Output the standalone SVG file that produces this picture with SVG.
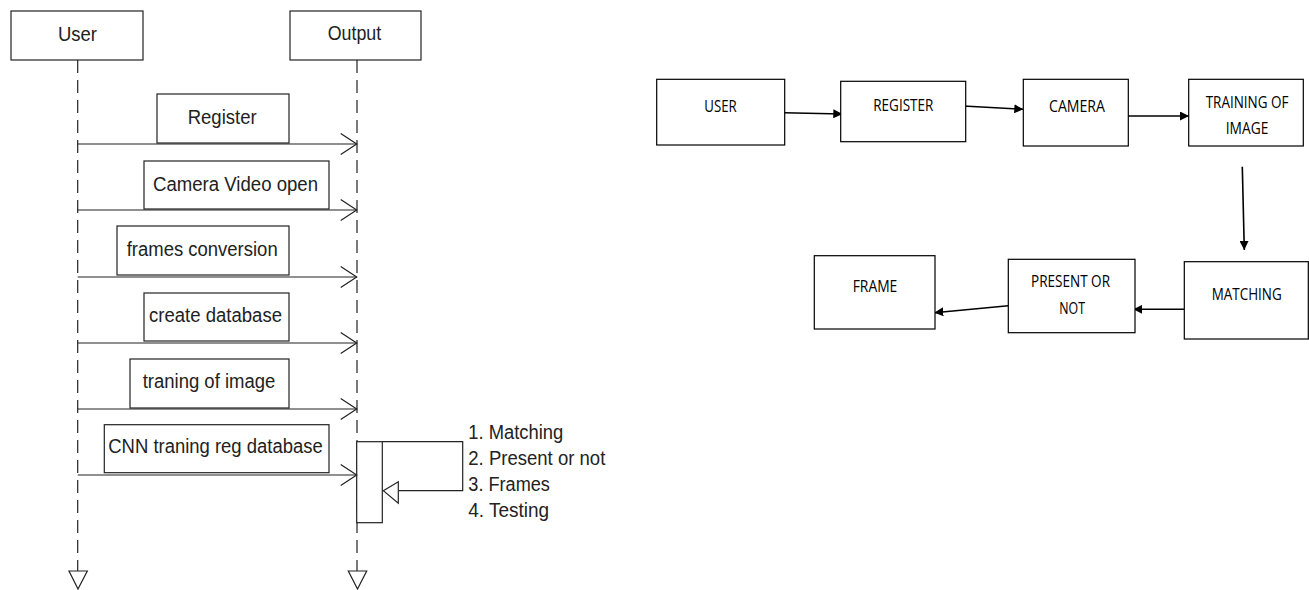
<svg xmlns="http://www.w3.org/2000/svg" width="1309" height="590" viewBox="0 0 1309 590">
<defs>
<style>
.box{fill:#fff;stroke:#222;stroke-width:1.2}
.lbl{fill:#fff;stroke:#222;stroke-width:1.2}
.t{font-family:"Liberation Sans",Arial,sans-serif;font-size:20px;fill:#222}
.life{stroke:#222;stroke-width:1.2;stroke-dasharray:13 7;fill:none}
.msg{stroke:#222;stroke-width:1.2;fill:none;marker-end:url(#open)}
.rb{fill:#fff;stroke:#000;stroke-width:1.2}
.rt{font-family:"Open Sans","Noto Sans",sans-serif;font-size:17px;fill:#000;text-anchor:start}
.ra{stroke:#000;stroke-width:1.6;fill:none;marker-end:url(#fill)}
</style>
<marker id="open" viewBox="0 0 18 24" refX="17" refY="12" markerWidth="18" markerHeight="24" markerUnits="userSpaceOnUse" orient="auto" overflow="visible">
<path d="M1,1.5 L17,12 L1,22.5" fill="none" stroke="#222" stroke-width="1.2"/>
</marker>
<marker id="fill" viewBox="0 0 10 10" refX="10" refY="5" markerWidth="9" markerHeight="9" markerUnits="userSpaceOnUse" orient="auto">
<path d="M0,0 L10,5 L0,10 z" fill="#000"/>
</marker>
</defs>
<rect width="1309" height="590" fill="#fff"/>

<!-- Sequence diagram -->
<g id="lifelines">
<line class="life" x1="77.7" y1="60" x2="77.7" y2="571"/>
<line class="life" x1="357" y1="60" x2="357" y2="571"/>
<polygon points="69,571 87.3,571 78,589" fill="#fff" stroke="#222" stroke-width="1.2"/>
<polygon points="348.3,571 366.7,571 357.5,589" fill="#fff" stroke="#222" stroke-width="1.2"/>
</g>
<g id="seq-user">
<rect class="box" x="11" y="11" width="132" height="49"/>
<text class="t" x="58" y="41" textLength="39" lengthAdjust="spacingAndGlyphs">User</text>
</g>
<g id="seq-output">
<rect class="box" x="290" y="11" width="131" height="49"/>
<text class="t" x="327.7" y="40" textLength="53.5" lengthAdjust="spacingAndGlyphs">Output</text>
</g>
<g id="seq-activation">
<rect class="box" x="356.7" y="441.7" width="25.6" height="81"/>
</g>
<g id="seq-messages">
<path class="msg" d="M77.7,144 H356.7"/>
<path class="msg" d="M77.7,210 H356.7"/>
<path class="msg" d="M77.7,277 H356.7"/>
<path class="msg" d="M77.7,343 H356.7"/>
<path class="msg" d="M77.7,409 H356.7"/>
<path class="msg" d="M77.7,475 H356.7"/>
<path d="M382.3,441.7 H462.7 V490.7 H398.3" fill="none" stroke="#222" stroke-width="1.2"/>
<polygon points="383.3,490.7 398.3,481.7 398.3,503.3" fill="#fff" stroke="#222" stroke-width="1.2"/>
</g>
<g id="msg-register">
<rect class="lbl" x="157" y="94" width="132" height="49"/>
<text class="t" x="187.7" y="124" textLength="69" lengthAdjust="spacingAndGlyphs">Register</text>
</g>
<g id="msg-camera">
<rect class="lbl" x="144" y="161" width="185" height="48"/>
<text class="t" x="153" y="190.5" textLength="165" lengthAdjust="spacingAndGlyphs">Camera Video open</text>
</g>
<g id="msg-frames">
<rect class="lbl" x="117" y="226" width="172" height="49"/>
<text class="t" x="126.7" y="255.5" textLength="151" lengthAdjust="spacingAndGlyphs">frames conversion</text>
</g>
<g id="msg-database">
<rect class="lbl" x="144" y="293" width="145" height="48"/>
<text class="t" x="149" y="322" textLength="133" lengthAdjust="spacingAndGlyphs">create database</text>
</g>
<g id="msg-training">
<rect class="lbl" x="130" y="359" width="159" height="49"/>
<text class="t" x="142.7" y="388" textLength="132.6" lengthAdjust="spacingAndGlyphs">traning of image</text>
</g>
<g id="msg-cnn">
<rect class="lbl" x="104.3" y="424.7" width="224.7" height="48"/>
<text class="t" x="108.3" y="453" textLength="214.4" lengthAdjust="spacingAndGlyphs">CNN traning reg database</text>
</g>
<g id="self-notes">
<text class="t" x="468.3" y="439" textLength="95" lengthAdjust="spacingAndGlyphs">1. Matching</text>
<text class="t" x="468.3" y="465" textLength="137" lengthAdjust="spacingAndGlyphs">2. Present or not</text>
<text class="t" x="468.3" y="491" textLength="81.6" lengthAdjust="spacingAndGlyphs">3. Frames</text>
<text class="t" x="468.3" y="517" textLength="80.8" lengthAdjust="spacingAndGlyphs">4. Testing</text>
</g>

<!-- Flow diagram -->
<g id="connectors">
<path class="ra" d="M784,112.7 L842.3,114"/>
<path class="ra" d="M963.3,106 L1023.3,109.3"/>
<path class="ra" d="M1126.7,116 L1189,116" stroke-width="2.2"/>
<path class="ra" d="M1242.3,166.7 L1244.3,250"/>
<path class="ra" d="M1184.3,309.3 L1133.3,309.3" stroke-width="2"/>
<path class="ra" d="M1008.3,305.7 L934.3,312.7"/>
</g>
<g id="n-user">
<rect class="rb" x="656.7" y="79.3" width="128" height="65.7"/>
<text class="rt" x="704.3" y="111.7" textLength="32.4" lengthAdjust="spacingAndGlyphs">USER</text>
</g>
<g id="n-register">
<rect class="rb" x="840.7" y="81.3" width="125" height="60.4"/>
<text class="rt" x="873.3" y="111" textLength="60" lengthAdjust="spacingAndGlyphs">REGISTER</text>
</g>
<g id="n-camera">
<rect class="rb" x="1023.3" y="79.3" width="105" height="66.7"/>
<text class="rt" x="1049" y="112.3" textLength="56" lengthAdjust="spacingAndGlyphs">CAMERA</text>
</g>
<g id="n-training">
<rect class="rb" x="1188.7" y="79.3" width="114.6" height="66.7"/>
<text class="rt" x="1205.7" y="107.7" textLength="82.7" lengthAdjust="spacingAndGlyphs">TRAINING OF</text>
<text class="rt" x="1225.7" y="134" textLength="42.6" lengthAdjust="spacingAndGlyphs">IMAGE</text>
</g>
<g id="n-matching">
<rect class="rb" x="1184.3" y="261.7" width="124" height="77.3"/>
<text class="rt" x="1211.7" y="300" textLength="70" lengthAdjust="spacingAndGlyphs">MATCHING</text>
</g>
<g id="n-present">
<rect class="rb" x="1008.3" y="259.3" width="126.7" height="73.4"/>
<text class="rt" x="1031" y="286.7" textLength="79" lengthAdjust="spacingAndGlyphs">PRESENT OR</text>
<text class="rt" x="1059.3" y="314" textLength="25.7" lengthAdjust="spacingAndGlyphs">NOT</text>
</g>
<g id="n-frame">
<rect class="rb" x="814.3" y="255.7" width="120.7" height="73.3"/>
<text class="rt" x="852.7" y="291.7" textLength="44.6" lengthAdjust="spacingAndGlyphs">FRAME</text>
</g>
</svg>
